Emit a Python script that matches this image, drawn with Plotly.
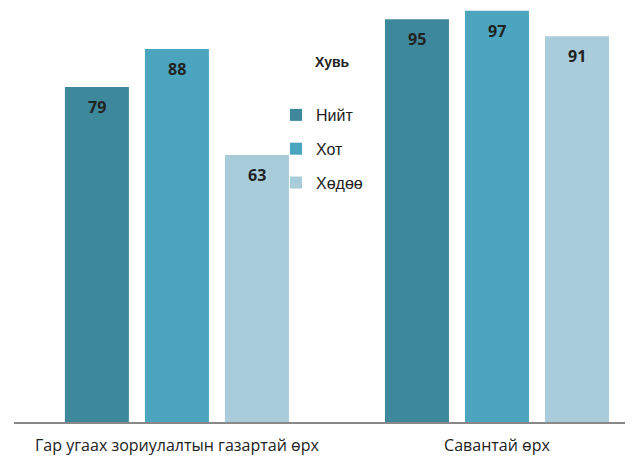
import plotly.graph_objects as go

categories = ["Гар угаах зориулалтын газартай өрх", "Савантай өрх"]
series_names = ["Нийт", "Хот", "Хөдөө"]
nijt = [79, 95]
khot = [88, 97]
khodoo = [63, 91]
colors = ["#3E889B", "#4BA5BF", "#A8CCD9"]

values = [nijt, khot, khodoo]
fig = go.Figure()
for i, (name, vals) in enumerate(zip(series_names, values)):
    fig.add_trace(go.Bar(
        x=categories, y=vals, name=name, marker_color=colors[i],
        marker_line_width=0, legendgroup=name, offsetgroup=str(i),
    ))

# page is offset by the 8px body margin; work in figure coordinates
W, H = 625, 449
L, B = 6, 35
PH = H - B  # 414

offsets = [-0.25, 0.0, 0.25]
ann = []
for i, vals in enumerate(values):
    for j, v in enumerate(vals):
        ann.append(dict(x=j + offsets[i], y=v, xref="x", yref="y", text=f"<b>{v}</b>",
                        showarrow=False, yshift=-20,
                        font=dict(family="Open Sans", size=16, color="#222222")))
ann.append(dict(x=(332 - 8 - L) / 619, y=(PH - (62 - 8)) / PH, xref="paper", yref="paper",
                xanchor="center", yanchor="middle",
                text="<b>Хувь</b>", showarrow=False,
                font=dict(family="Liberation Sans", size=14, color="#222222")))

fig.update_layout(
    width=W, height=H,
    margin=dict(l=L, r=0, t=0, b=B, autoexpand=False),
    paper_bgcolor="white", plot_bgcolor="white",
    barmode="group", bargap=0.25, bargroupgap=0.2,
    showlegend=True,
    legend=dict(x=(276 - 8 - L) / 619, y=(PH - (98 - 8)) / PH, xanchor="left", yanchor="top",
                traceorder="grouped", tracegroupgap=10, itemwidth=30,
                font=dict(family="Liberation Sans", size=16, color="#222222"),
                bgcolor="rgba(0,0,0,0)"),
    annotations=ann,
    xaxis=dict(range=[-0.509, 1.425], showline=True, linecolor="#888888", linewidth=2,
               ticks="", showgrid=False, ticklabelstandoff=8, automargin=False,
               tickfont=dict(family="Open Sans", size=16, color="#222222")),
    yaxis=dict(range=[0, PH / 4.24], visible=False, showgrid=False, automargin=False),
)
fig.write_html("out.html")
